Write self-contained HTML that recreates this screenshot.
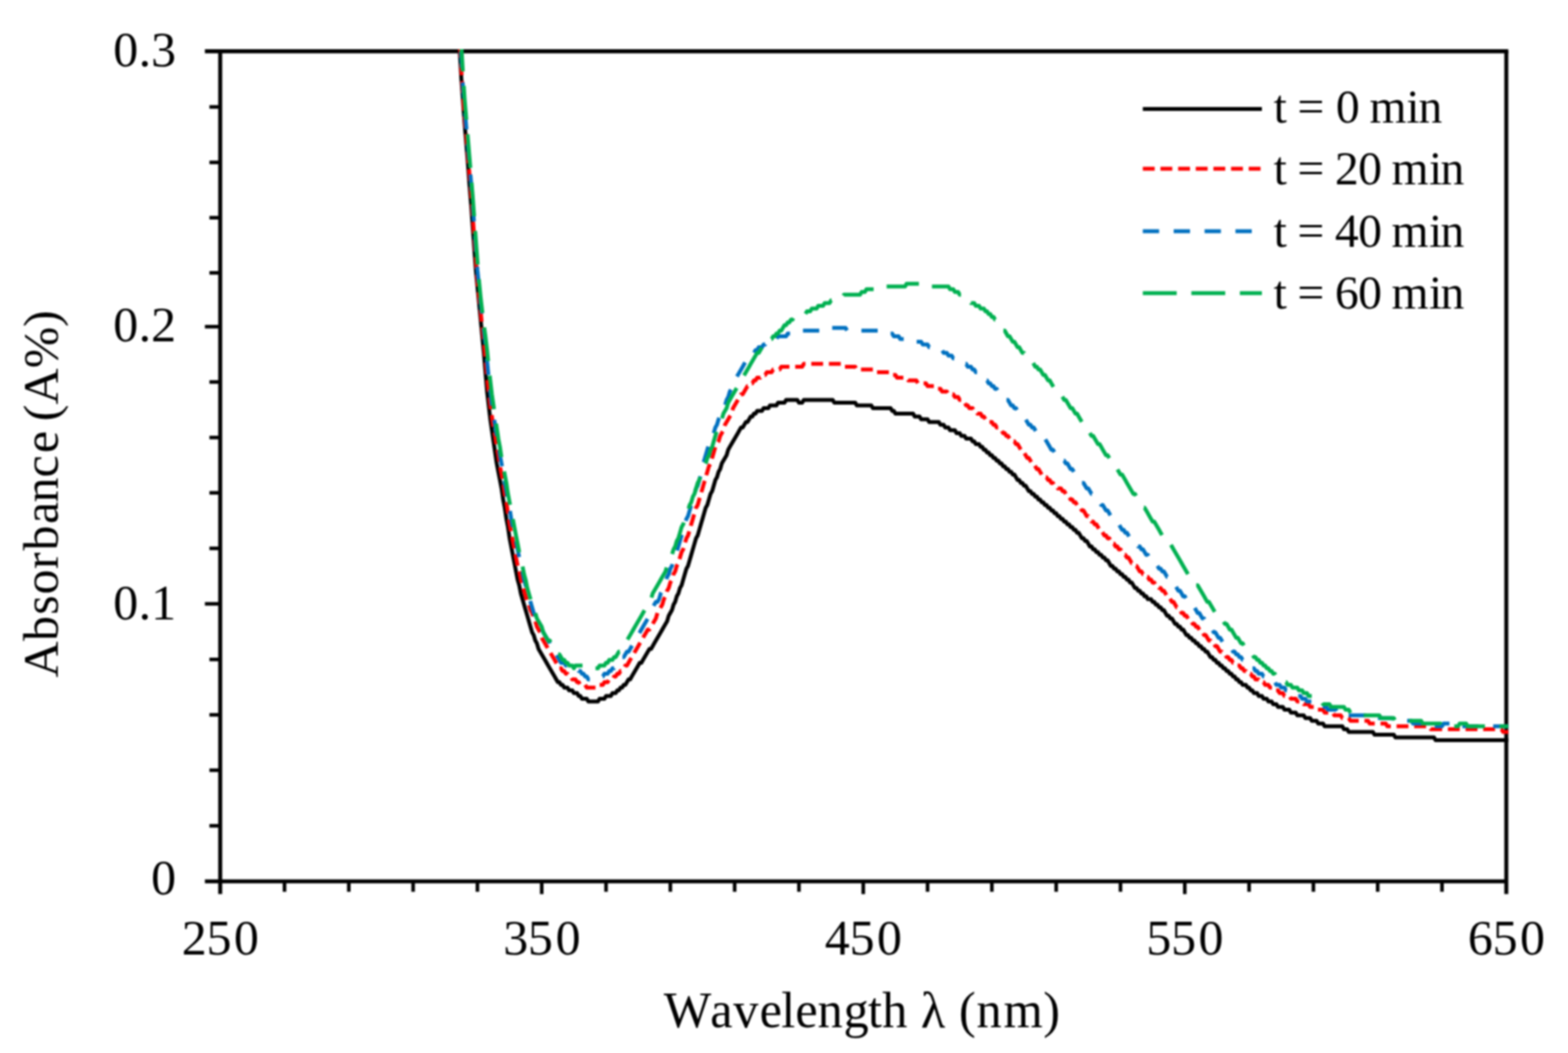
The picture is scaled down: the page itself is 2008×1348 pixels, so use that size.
<!DOCTYPE html>
<html lang="en">
<head>
<meta charset="utf-8">
<title>Absorbance vs Wavelength</title>
<style>
html,body{margin:0;padding:0;background:#fff;}
body{width:2008px;height:1348px;overflow:hidden;}
svg{display:block;filter:blur(0.9px);}
text{font-family:"Liberation Serif","DejaVu Serif",serif;fill:#000;font-kerning:none;}
.ax{font-size:64.5px;}
.lg{font-size:61.0px;}
.tl{font-size:64px;}
.yt{font-size:64px;}
.c{fill:none;stroke-width:5.0;stroke-linejoin:round;stroke-linecap:butt;}
.a{fill:none;stroke:#000;stroke-width:5.1;stroke-linecap:butt;}
.t{fill:none;stroke:#000;stroke-width:4.6;stroke-linecap:butt;}
</style>
</head>
<body>
<svg width="2008" height="1348" viewBox="0 0 2008 1348">
<rect x="0" y="0" width="2008" height="1348" fill="#fff"/>
<defs><clipPath id="plot"><rect x="282.0" y="63.05" width="1649.55" height="1065.15"/></clipPath></defs>

<g class="a">
<path d="M262.4 65.6 H1931.55"/>
<path d="M1929.0 65.6 V1144.6"/>
<path d="M282.0 65.6 V1144.6"/>
<path d="M262.4 1128.2 H1929.0"/>
</g>
<g class="t">
<path d="M268.2 1057.15 H282.0"/>
<path d="M268.2 986.00 H282.0"/>
<path d="M268.2 915.10 H282.0"/>
<path d="M268.2 844.20 H282.0"/>
<path d="M262.4 773.00 H282.0"/>
<path d="M268.2 702.00 H282.0"/>
<path d="M268.2 630.90 H282.0"/>
<path d="M268.2 560.10 H282.0"/>
<path d="M268.2 489.00 H282.0"/>
<path d="M262.4 418.20 H282.0"/>
<path d="M268.2 349.30 H282.0"/>
<path d="M268.2 278.70 H282.0"/>
<path d="M268.2 207.90 H282.0"/>
<path d="M268.2 136.90 H282.0"/>
<path d="M364.35 1128.2 V1141.6"/>
<path d="M446.70 1128.2 V1141.6"/>
<path d="M529.05 1128.2 V1141.6"/>
<path d="M611.40 1128.2 V1141.6"/>
<path d="M693.75 1128.2 V1144.6"/>
<path d="M776.10 1128.2 V1141.6"/>
<path d="M858.45 1128.2 V1141.6"/>
<path d="M940.80 1128.2 V1141.6"/>
<path d="M1023.15 1128.2 V1141.6"/>
<path d="M1105.50 1128.2 V1144.6"/>
<path d="M1187.85 1128.2 V1141.6"/>
<path d="M1270.20 1128.2 V1141.6"/>
<path d="M1352.55 1128.2 V1141.6"/>
<path d="M1434.90 1128.2 V1141.6"/>
<path d="M1517.25 1128.2 V1144.6"/>
<path d="M1599.60 1128.2 V1141.6"/>
<path d="M1681.95 1128.2 V1141.6"/>
<path d="M1764.30 1128.2 V1141.6"/>
<path d="M1846.65 1128.2 V1141.6"/>
</g>
<g clip-path="url(#plot)">
<polyline class="c" stroke="#000" points="586.69,33.72 588.75,65.60 590.81,101.02 592.87,129.36 594.93,157.69 596.99,182.49 599.05,207.28 601.11,235.62 603.16,260.41 605.22,288.75 607.28,317.08 609.34,345.42 611.40,366.67 613.46,387.92 615.52,409.17 617.58,430.43 619.63,451.68 621.69,476.47 623.75,501.27 625.81,518.98 627.87,536.69 629.93,550.85 631.99,565.02 634.05,579.19 636.11,593.36 638.16,603.98 640.22,614.61 642.28,625.24 644.34,639.40 646.40,650.03 648.46,664.20 650.52,674.82 652.58,688.99 654.63,699.62 656.69,710.24 658.75,720.87 660.81,731.50 662.87,742.12 664.93,749.21 666.99,759.83 669.04,766.92 671.10,774.00 673.16,781.08 675.22,788.17 677.28,795.25 679.34,802.34 681.40,809.42 683.46,812.96 685.51,820.05 687.57,823.59 689.63,830.67 691.69,834.21 693.75,837.76 695.81,841.30 697.87,844.84 699.93,848.38 701.98,851.92 704.04,855.47 706.10,859.01 708.16,862.55 710.22,866.09 712.28,869.63 714.34,873.18 716.40,873.18 718.45,876.72 720.51,876.72 722.57,880.26 724.63,880.26 726.69,880.26 728.75,883.80 730.81,883.80 732.87,883.80 734.92,887.34 736.98,887.34 739.04,887.34 741.10,890.89 743.16,890.89 745.22,894.43 747.28,894.43 749.34,894.43 751.39,894.43 753.45,897.97 755.51,897.97 757.57,897.97 759.63,897.97 761.69,897.97 763.75,897.97 765.81,897.97 767.87,894.43 769.92,894.43 771.98,894.43 774.04,894.43 776.10,890.89 778.16,890.89 780.22,890.89 782.28,890.89 784.34,887.34 786.39,887.34 788.45,887.34 790.51,883.80 792.57,883.80 794.63,880.26 796.69,880.26 798.75,876.72 800.80,876.72 802.86,873.18 804.92,869.63 806.98,869.63 809.04,866.09 811.10,862.55 813.16,859.01 815.22,855.47 817.27,851.92 819.33,848.38 821.39,848.38 823.45,844.84 825.51,841.30 827.57,837.76 829.63,834.21 831.69,830.67 833.75,830.67 835.80,827.13 837.86,823.59 839.92,820.05 841.98,816.50 844.04,812.96 846.10,809.42 848.16,805.88 850.21,802.34 852.27,798.79 854.33,795.25 856.39,788.17 858.45,784.63 860.51,781.08 862.57,774.00 864.63,770.46 866.68,763.37 868.74,759.83 870.80,752.75 872.86,749.21 874.92,742.12 876.98,735.04 879.04,727.95 881.10,724.41 883.15,717.33 885.21,710.24 887.27,703.16 889.33,696.08 891.39,688.99 893.45,685.45 895.51,678.37 897.57,671.28 899.62,664.20 901.68,657.11 903.74,650.03 905.80,646.49 907.86,639.40 909.92,632.32 911.98,628.78 914.04,621.69 916.09,614.61 918.15,611.07 920.21,603.98 922.27,600.44 924.33,593.36 926.39,589.82 928.45,586.27 930.51,582.73 932.56,575.65 934.62,572.11 936.68,568.56 938.74,565.02 940.80,561.48 942.86,557.94 944.92,554.40 946.98,550.85 949.03,547.31 951.09,547.31 953.15,543.77 955.21,540.23 957.27,540.23 959.33,536.69 961.39,533.14 963.45,533.14 965.50,529.60 967.56,529.60 969.62,526.06 971.68,526.06 973.74,526.06 975.80,526.06 977.86,522.52 979.92,522.52 981.97,522.52 984.03,522.52 986.09,518.98 988.15,518.98 990.21,518.98 992.27,518.98 994.33,518.98 996.39,515.43 998.44,515.43 1000.50,515.43 1002.56,515.43 1004.62,515.43 1006.68,511.89 1008.74,511.89 1010.80,511.89 1012.86,511.89 1014.91,511.89 1016.97,511.89 1019.03,511.89 1021.09,511.89 1023.15,515.43 1025.21,515.43 1027.27,515.43 1029.33,511.89 1031.38,511.89 1033.44,511.89 1035.50,511.89 1037.56,511.89 1039.62,511.89 1041.68,511.89 1043.74,511.89 1045.80,511.89 1047.86,511.89 1049.91,511.89 1051.97,511.89 1054.03,511.89 1056.09,511.89 1058.15,511.89 1060.21,511.89 1062.27,511.89 1064.32,511.89 1066.38,511.89 1068.44,515.43 1070.50,515.43 1072.56,515.43 1074.62,515.43 1076.68,515.43 1078.74,515.43 1080.80,515.43 1082.85,515.43 1084.91,515.43 1086.97,515.43 1089.03,515.43 1091.09,515.43 1093.15,515.43 1095.21,515.43 1097.26,518.98 1099.32,518.98 1101.38,518.98 1103.44,518.98 1105.50,518.98 1107.56,518.98 1109.62,518.98 1111.68,518.98 1113.73,518.98 1115.79,518.98 1117.85,522.52 1119.91,522.52 1121.97,522.52 1124.03,522.52 1126.09,522.52 1128.15,522.52 1130.20,522.52 1132.26,522.52 1134.32,522.52 1136.38,522.52 1138.44,522.52 1140.50,522.52 1142.56,526.06 1144.62,526.06 1146.67,529.60 1148.73,529.60 1150.79,529.60 1152.85,529.60 1154.91,529.60 1156.97,529.60 1159.03,529.60 1161.09,529.60 1163.14,529.60 1165.20,529.60 1167.26,529.60 1169.32,529.60 1171.38,533.14 1173.44,533.14 1175.50,533.14 1177.56,533.14 1179.61,536.69 1181.67,536.69 1183.73,536.69 1185.79,536.69 1187.85,536.69 1189.91,540.23 1191.97,540.23 1194.03,540.23 1196.09,540.23 1198.14,540.23 1200.20,540.23 1202.26,540.23 1204.32,543.77 1206.38,543.77 1208.44,543.77 1210.50,547.31 1212.55,547.31 1214.61,547.31 1216.67,550.85 1218.73,550.85 1220.79,550.85 1222.85,550.85 1224.91,554.40 1226.97,554.40 1229.03,554.40 1231.08,557.94 1233.14,557.94 1235.20,557.94 1237.26,561.48 1239.32,561.48 1241.38,561.48 1243.44,561.48 1245.49,565.02 1247.55,565.02 1249.61,568.56 1251.67,568.56 1253.73,568.56 1255.79,572.11 1257.85,572.11 1259.91,575.65 1261.96,575.65 1264.02,579.19 1266.08,579.19 1268.14,582.73 1270.20,582.73 1272.26,586.27 1274.32,586.27 1276.38,589.82 1278.43,589.82 1280.49,593.36 1282.55,593.36 1284.61,596.90 1286.67,596.90 1288.73,600.44 1290.79,600.44 1292.85,603.98 1294.90,603.98 1296.96,607.53 1299.02,607.53 1301.08,611.07 1303.14,614.61 1305.20,614.61 1307.26,618.15 1309.32,618.15 1311.38,621.69 1313.43,621.69 1315.49,625.24 1317.55,628.78 1319.61,628.78 1321.67,632.32 1323.73,632.32 1325.79,635.86 1327.85,635.86 1329.90,639.40 1331.96,639.40 1334.02,642.95 1336.08,642.95 1338.14,646.49 1340.20,646.49 1342.26,650.03 1344.31,650.03 1346.37,653.57 1348.43,653.57 1350.49,657.11 1352.55,657.11 1354.61,660.66 1356.67,660.66 1358.73,664.20 1360.78,664.20 1362.84,667.74 1364.90,667.74 1366.96,671.28 1369.02,671.28 1371.08,674.82 1373.14,674.82 1375.20,678.37 1377.25,678.37 1379.31,681.91 1381.37,681.91 1383.43,685.45 1385.49,688.99 1387.55,688.99 1389.61,692.53 1391.67,692.53 1393.72,696.08 1395.78,699.62 1397.84,699.62 1399.90,703.16 1401.96,703.16 1404.02,706.70 1406.08,706.70 1408.14,710.24 1410.19,710.24 1412.25,713.79 1414.31,713.79 1416.37,717.33 1418.43,717.33 1420.49,720.87 1422.55,724.41 1424.61,724.41 1426.66,727.95 1428.72,727.95 1430.78,731.50 1432.84,731.50 1434.90,735.04 1436.96,735.04 1439.02,738.58 1441.08,738.58 1443.13,742.12 1445.19,742.12 1447.25,745.66 1449.31,745.66 1451.37,749.21 1453.43,752.75 1455.49,752.75 1457.55,756.29 1459.61,756.29 1461.66,759.83 1463.72,759.83 1465.78,763.37 1467.84,763.37 1469.90,766.92 1471.96,766.92 1474.02,766.92 1476.07,770.46 1478.13,770.46 1480.19,774.00 1482.25,774.00 1484.31,777.54 1486.37,777.54 1488.43,781.08 1490.49,781.08 1492.54,784.63 1494.60,788.17 1496.66,788.17 1498.72,791.71 1500.78,791.71 1502.84,795.25 1504.90,798.79 1506.96,798.79 1509.01,802.34 1511.07,802.34 1513.13,805.88 1515.19,805.88 1517.25,809.42 1519.31,812.96 1521.37,812.96 1523.43,816.50 1525.48,816.50 1527.54,820.05 1529.60,820.05 1531.66,823.59 1533.72,823.59 1535.78,827.13 1537.84,827.13 1539.90,830.67 1541.95,830.67 1544.01,834.21 1546.07,834.21 1548.13,837.76 1550.19,841.30 1552.25,841.30 1554.31,844.84 1556.37,844.84 1558.42,848.38 1560.48,848.38 1562.54,851.92 1564.60,851.92 1566.66,855.47 1568.72,855.47 1570.78,859.01 1572.84,859.01 1574.89,862.55 1576.95,862.55 1579.01,866.09 1581.07,866.09 1583.13,869.63 1585.19,869.63 1587.25,873.18 1589.31,873.18 1591.37,876.72 1593.42,876.72 1595.48,876.72 1597.54,880.26 1599.60,880.26 1601.66,883.80 1603.72,883.80 1605.78,887.34 1607.83,887.34 1609.89,887.34 1611.95,890.89 1614.01,890.89 1616.07,890.89 1618.13,894.43 1620.19,894.43 1622.25,894.43 1624.30,897.97 1626.36,897.97 1628.42,897.97 1630.48,901.51 1632.54,901.51 1634.60,901.51 1636.66,905.05 1638.72,905.05 1640.77,905.05 1642.83,905.05 1644.89,908.60 1646.95,908.60 1649.01,908.60 1651.07,908.60 1653.13,912.14 1655.19,912.14 1657.24,912.14 1659.30,912.14 1661.36,915.68 1663.42,915.68 1665.48,915.68 1667.54,915.68 1669.60,915.68 1671.66,919.22 1673.71,919.22 1675.77,919.22 1677.83,919.22 1679.89,922.76 1681.95,922.76 1684.01,922.76 1686.07,922.76 1688.13,926.31 1690.18,926.31 1692.24,926.31 1694.30,926.31 1696.36,929.85 1698.42,929.85 1700.48,929.85 1702.54,929.85 1704.60,929.85 1706.65,929.85 1708.71,929.85 1710.77,929.85 1712.83,929.85 1714.89,929.85 1716.95,929.85 1719.01,929.85 1721.07,933.39 1723.12,933.39 1725.18,933.39 1727.24,936.93 1729.30,936.93 1731.36,936.93 1733.42,936.93 1735.48,936.93 1737.54,936.93 1739.59,936.93 1741.65,936.93 1743.71,936.93 1745.77,936.93 1747.83,936.93 1749.89,936.93 1751.95,936.93 1754.01,936.93 1756.06,936.93 1758.12,936.93 1760.18,940.47 1762.24,940.47 1764.30,940.47 1766.36,940.47 1768.42,940.47 1770.48,940.47 1772.53,940.47 1774.59,940.47 1776.65,940.47 1778.71,940.47 1780.77,940.47 1782.83,940.47 1784.89,940.47 1786.95,944.02 1789.00,944.02 1791.06,944.02 1793.12,944.02 1795.18,944.02 1797.24,944.02 1799.30,944.02 1801.36,944.02 1803.42,944.02 1805.47,944.02 1807.53,944.02 1809.59,944.02 1811.65,944.02 1813.71,944.02 1815.77,944.02 1817.83,944.02 1819.89,944.02 1821.94,944.02 1824.00,944.02 1826.06,944.02 1828.12,944.02 1830.18,944.02 1832.24,944.02 1834.30,944.02 1836.36,944.02 1838.41,947.56 1840.47,947.56 1842.53,947.56 1844.59,947.56 1846.65,947.56 1848.71,947.56 1850.77,947.56 1852.83,947.56 1854.88,947.56 1856.94,947.56 1859.00,947.56 1861.06,947.56 1863.12,947.56 1865.18,947.56 1867.24,947.56 1869.30,947.56 1871.35,947.56 1873.41,947.56 1875.47,947.56 1877.53,947.56 1879.59,947.56 1881.65,947.56 1883.71,947.56 1885.77,947.56 1887.82,947.56 1889.88,947.56 1891.94,947.56 1894.00,947.56 1896.06,947.56 1898.12,947.56 1900.18,947.56 1902.24,947.56 1904.29,947.56 1906.35,947.56 1908.41,947.56 1910.47,947.56 1912.53,947.56 1914.59,947.56 1916.65,947.56 1918.71,947.56 1920.76,947.56 1922.82,947.56 1924.88,947.56 1926.94,947.56 1929.00,947.56 1931.06,947.56 1933.12,947.56"/>
<polyline class="c" stroke="#ff0000" stroke-dasharray="15.19 7.4" stroke-dashoffset="12.99" points="586.69,26.64 588.75,54.97 590.81,90.39 592.87,122.27 594.93,150.61 596.99,171.86 599.05,196.65 601.11,221.45 603.16,246.24 605.22,274.58 607.28,302.91 609.34,331.25 611.40,359.59 613.46,380.84 615.52,398.55 617.58,419.80 619.63,437.51 621.69,458.76 623.75,483.56 625.81,501.27 627.87,518.98 629.93,533.14 631.99,547.31 634.05,557.94 636.11,572.11 638.16,582.73 640.22,596.90 642.28,607.53 644.34,618.15 646.40,632.32 648.46,642.95 650.52,657.11 652.58,671.28 654.63,681.91 656.69,692.53 658.75,703.16 660.81,713.79 662.87,724.41 664.93,731.50 666.99,742.12 669.04,749.21 671.10,756.29 673.16,763.37 675.22,770.46 677.28,774.00 679.34,781.08 681.40,784.63 683.46,791.71 685.51,795.25 687.57,802.34 689.63,805.88 691.69,809.42 693.75,816.50 695.81,820.05 697.87,823.59 699.93,827.13 701.98,830.67 704.04,834.21 706.10,837.76 708.16,841.30 710.22,844.84 712.28,848.38 714.34,851.92 716.40,855.47 718.45,855.47 720.51,859.01 722.57,859.01 724.63,862.55 726.69,862.55 728.75,866.09 730.81,866.09 732.87,869.63 734.92,869.63 736.98,869.63 739.04,873.18 741.10,873.18 743.16,876.72 745.22,876.72 747.28,876.72 749.34,876.72 751.39,880.26 753.45,880.26 755.51,880.26 757.57,880.26 759.63,880.26 761.69,880.26 763.75,880.26 765.81,876.72 767.87,876.72 769.92,876.72 771.98,876.72 774.04,873.18 776.10,873.18 778.16,873.18 780.22,869.63 782.28,869.63 784.34,869.63 786.39,866.09 788.45,866.09 790.51,862.55 792.57,862.55 794.63,859.01 796.69,859.01 798.75,855.47 800.80,851.92 802.86,851.92 804.92,848.38 806.98,844.84 809.04,841.30 811.10,837.76 813.16,834.21 815.22,830.67 817.27,827.13 819.33,823.59 821.39,820.05 823.45,816.50 825.51,812.96 827.57,809.42 829.63,805.88 831.69,805.88 833.75,802.34 835.80,798.79 837.86,795.25 839.92,791.71 841.98,784.63 844.04,781.08 846.10,777.54 848.16,774.00 850.21,766.92 852.27,763.37 854.33,756.29 856.39,752.75 858.45,745.66 860.51,742.12 862.57,735.04 864.63,731.50 866.68,724.41 868.74,720.87 870.80,713.79 872.86,706.70 874.92,703.16 876.98,696.08 879.04,688.99 881.10,685.45 883.15,678.37 885.21,671.28 887.27,664.20 889.33,657.11 891.39,650.03 893.45,646.49 895.51,639.40 897.57,632.32 899.62,625.24 901.68,618.15 903.74,611.07 905.80,603.98 907.86,596.90 909.92,593.36 911.98,586.27 914.04,579.19 916.09,572.11 918.15,568.56 920.21,565.02 922.27,557.94 924.33,554.40 926.39,550.85 928.45,543.77 930.51,540.23 932.56,536.69 934.62,533.14 936.68,529.60 938.74,522.52 940.80,518.98 942.86,515.43 944.92,511.89 946.98,508.35 949.03,504.81 951.09,504.81 953.15,501.27 955.21,497.72 957.27,494.18 959.33,494.18 961.39,490.64 963.45,490.64 965.50,487.10 967.56,487.10 969.62,483.56 971.68,483.56 973.74,483.56 975.80,480.01 977.86,480.01 979.92,480.01 981.97,476.47 984.03,476.47 986.09,476.47 988.15,476.47 990.21,472.93 992.27,472.93 994.33,472.93 996.39,472.93 998.44,472.93 1000.50,469.39 1002.56,469.39 1004.62,469.39 1006.68,469.39 1008.74,469.39 1010.80,469.39 1012.86,469.39 1014.91,469.39 1016.97,469.39 1019.03,469.39 1021.09,469.39 1023.15,469.39 1025.21,469.39 1027.27,469.39 1029.33,465.85 1031.38,465.85 1033.44,465.85 1035.50,465.85 1037.56,465.85 1039.62,465.85 1041.68,465.85 1043.74,465.85 1045.80,465.85 1047.86,465.85 1049.91,465.85 1051.97,465.85 1054.03,465.85 1056.09,465.85 1058.15,465.85 1060.21,465.85 1062.27,465.85 1064.32,465.85 1066.38,465.85 1068.44,465.85 1070.50,465.85 1072.56,465.85 1074.62,465.85 1076.68,465.85 1078.74,465.85 1080.80,469.39 1082.85,469.39 1084.91,469.39 1086.97,469.39 1089.03,469.39 1091.09,469.39 1093.15,469.39 1095.21,469.39 1097.26,472.93 1099.32,472.93 1101.38,472.93 1103.44,472.93 1105.50,472.93 1107.56,472.93 1109.62,472.93 1111.68,472.93 1113.73,472.93 1115.79,472.93 1117.85,472.93 1119.91,476.47 1121.97,476.47 1124.03,476.47 1126.09,476.47 1128.15,476.47 1130.20,476.47 1132.26,476.47 1134.32,476.47 1136.38,476.47 1138.44,476.47 1140.50,480.01 1142.56,480.01 1144.62,480.01 1146.67,480.01 1148.73,483.56 1150.79,483.56 1152.85,483.56 1154.91,483.56 1156.97,483.56 1159.03,483.56 1161.09,483.56 1163.14,487.10 1165.20,487.10 1167.26,487.10 1169.32,487.10 1171.38,487.10 1173.44,487.10 1175.50,490.64 1177.56,490.64 1179.61,490.64 1181.67,490.64 1183.73,490.64 1185.79,490.64 1187.85,494.18 1189.91,494.18 1191.97,494.18 1194.03,494.18 1196.09,494.18 1198.14,497.72 1200.20,497.72 1202.26,497.72 1204.32,497.72 1206.38,501.27 1208.44,501.27 1210.50,501.27 1212.55,501.27 1214.61,504.81 1216.67,504.81 1218.73,504.81 1220.79,504.81 1222.85,508.35 1224.91,508.35 1226.97,508.35 1229.03,511.89 1231.08,511.89 1233.14,515.43 1235.20,515.43 1237.26,518.98 1239.32,518.98 1241.38,522.52 1243.44,522.52 1245.49,522.52 1247.55,526.06 1249.61,526.06 1251.67,529.60 1253.73,529.60 1255.79,529.60 1257.85,533.14 1259.91,533.14 1261.96,536.69 1264.02,536.69 1266.08,540.23 1268.14,540.23 1270.20,540.23 1272.26,543.77 1274.32,543.77 1276.38,547.31 1278.43,547.31 1280.49,550.85 1282.55,550.85 1284.61,554.40 1286.67,554.40 1288.73,557.94 1290.79,557.94 1292.85,561.48 1294.90,561.48 1296.96,565.02 1299.02,565.02 1301.08,568.56 1303.14,568.56 1305.20,572.11 1307.26,575.65 1309.32,575.65 1311.38,579.19 1313.43,582.73 1315.49,586.27 1317.55,586.27 1319.61,589.82 1321.67,593.36 1323.73,593.36 1325.79,596.90 1327.85,600.44 1329.90,600.44 1331.96,603.98 1334.02,607.53 1336.08,607.53 1338.14,611.07 1340.20,611.07 1342.26,614.61 1344.31,614.61 1346.37,618.15 1348.43,618.15 1350.49,621.69 1352.55,621.69 1354.61,625.24 1356.67,625.24 1358.73,625.24 1360.78,628.78 1362.84,628.78 1364.90,632.32 1366.96,635.86 1369.02,635.86 1371.08,639.40 1373.14,639.40 1375.20,642.95 1377.25,642.95 1379.31,646.49 1381.37,650.03 1383.43,650.03 1385.49,653.57 1387.55,653.57 1389.61,657.11 1391.67,660.66 1393.72,660.66 1395.78,664.20 1397.84,667.74 1399.90,667.74 1401.96,671.28 1404.02,671.28 1406.08,674.82 1408.14,678.37 1410.19,678.37 1412.25,681.91 1414.31,685.45 1416.37,685.45 1418.43,688.99 1420.49,688.99 1422.55,692.53 1424.61,696.08 1426.66,696.08 1428.72,699.62 1430.78,699.62 1432.84,703.16 1434.90,703.16 1436.96,706.70 1439.02,710.24 1441.08,710.24 1443.13,713.79 1445.19,713.79 1447.25,717.33 1449.31,720.87 1451.37,720.87 1453.43,724.41 1455.49,724.41 1457.55,727.95 1459.61,731.50 1461.66,731.50 1463.72,735.04 1465.78,735.04 1467.84,738.58 1469.90,738.58 1471.96,742.12 1474.02,742.12 1476.07,745.66 1478.13,745.66 1480.19,749.21 1482.25,749.21 1484.31,752.75 1486.37,752.75 1488.43,756.29 1490.49,756.29 1492.54,759.83 1494.60,763.37 1496.66,763.37 1498.72,766.92 1500.78,770.46 1502.84,770.46 1504.90,774.00 1506.96,777.54 1509.01,777.54 1511.07,781.08 1513.13,784.63 1515.19,784.63 1517.25,788.17 1519.31,788.17 1521.37,791.71 1523.43,795.25 1525.48,795.25 1527.54,798.79 1529.60,798.79 1531.66,802.34 1533.72,802.34 1535.78,805.88 1537.84,809.42 1539.90,809.42 1541.95,812.96 1544.01,812.96 1546.07,816.50 1548.13,820.05 1550.19,820.05 1552.25,823.59 1554.31,823.59 1556.37,827.13 1558.42,827.13 1560.48,830.67 1562.54,834.21 1564.60,834.21 1566.66,837.76 1568.72,837.76 1570.78,841.30 1572.84,841.30 1574.89,844.84 1576.95,844.84 1579.01,848.38 1581.07,848.38 1583.13,851.92 1585.19,851.92 1587.25,851.92 1589.31,855.47 1591.37,855.47 1593.42,859.01 1595.48,859.01 1597.54,862.55 1599.60,862.55 1601.66,862.55 1603.72,866.09 1605.78,866.09 1607.83,869.63 1609.89,869.63 1611.95,869.63 1614.01,873.18 1616.07,873.18 1618.13,873.18 1620.19,876.72 1622.25,876.72 1624.30,876.72 1626.36,880.26 1628.42,880.26 1630.48,880.26 1632.54,883.80 1634.60,883.80 1636.66,883.80 1638.72,887.34 1640.77,887.34 1642.83,887.34 1644.89,890.89 1646.95,890.89 1649.01,890.89 1651.07,890.89 1653.13,894.43 1655.19,894.43 1657.24,894.43 1659.30,894.43 1661.36,897.97 1663.42,897.97 1665.48,897.97 1667.54,897.97 1669.60,901.51 1671.66,901.51 1673.71,901.51 1675.77,901.51 1677.83,905.05 1679.89,905.05 1681.95,905.05 1684.01,905.05 1686.07,908.60 1688.13,908.60 1690.18,908.60 1692.24,908.60 1694.30,908.60 1696.36,912.14 1698.42,912.14 1700.48,912.14 1702.54,912.14 1704.60,912.14 1706.65,912.14 1708.71,915.68 1710.77,915.68 1712.83,915.68 1714.89,915.68 1716.95,915.68 1719.01,919.22 1721.07,919.22 1723.12,919.22 1725.18,919.22 1727.24,919.22 1729.30,922.76 1731.36,922.76 1733.42,922.76 1735.48,922.76 1737.54,922.76 1739.59,922.76 1741.65,922.76 1743.71,922.76 1745.77,922.76 1747.83,922.76 1749.89,922.76 1751.95,922.76 1754.01,926.31 1756.06,926.31 1758.12,926.31 1760.18,926.31 1762.24,926.31 1764.30,926.31 1766.36,926.31 1768.42,926.31 1770.48,926.31 1772.53,926.31 1774.59,926.31 1776.65,929.85 1778.71,929.85 1780.77,929.85 1782.83,929.85 1784.89,929.85 1786.95,929.85 1789.00,929.85 1791.06,929.85 1793.12,929.85 1795.18,929.85 1797.24,929.85 1799.30,929.85 1801.36,929.85 1803.42,929.85 1805.47,929.85 1807.53,929.85 1809.59,929.85 1811.65,929.85 1813.71,929.85 1815.77,929.85 1817.83,929.85 1819.89,929.85 1821.94,929.85 1824.00,929.85 1826.06,929.85 1828.12,929.85 1830.18,929.85 1832.24,933.39 1834.30,933.39 1836.36,933.39 1838.41,933.39 1840.47,933.39 1842.53,933.39 1844.59,933.39 1846.65,933.39 1848.71,933.39 1850.77,933.39 1852.83,933.39 1854.88,933.39 1856.94,933.39 1859.00,933.39 1861.06,933.39 1863.12,933.39 1865.18,933.39 1867.24,933.39 1869.30,933.39 1871.35,933.39 1873.41,933.39 1875.47,933.39 1877.53,933.39 1879.59,933.39 1881.65,933.39 1883.71,933.39 1885.77,933.39 1887.82,933.39 1889.88,933.39 1891.94,933.39 1894.00,933.39 1896.06,933.39 1898.12,933.39 1900.18,933.39 1902.24,933.39 1904.29,933.39 1906.35,933.39 1908.41,933.39 1910.47,933.39 1912.53,933.39 1914.59,933.39 1916.65,933.39 1918.71,933.39 1920.76,933.39 1922.82,933.39 1924.88,936.93 1926.94,936.93 1929.00,936.93 1931.06,936.93 1933.12,936.93"/>
<polyline class="c" stroke="#0070c0" stroke-dasharray="20.85 18.6" stroke-dashoffset="17.65" points="588.75,44.35 590.81,76.23 592.87,111.65 594.93,136.44 596.99,161.23 599.05,186.03 601.11,207.28 603.16,232.07 605.22,260.41 607.28,288.75 609.34,317.08 611.40,345.42 613.46,366.67 615.52,387.92 617.58,405.63 619.63,423.34 621.69,441.05 623.75,462.30 625.81,483.56 627.87,501.27 629.93,518.98 631.99,533.14 634.05,543.77 636.11,557.94 638.16,568.56 640.22,582.73 642.28,593.36 644.34,603.98 646.40,618.15 648.46,628.78 650.52,639.40 652.58,650.03 654.63,664.20 656.69,674.82 658.75,685.45 660.81,692.53 662.87,703.16 664.93,713.79 666.99,724.41 669.04,731.50 671.10,742.12 673.16,749.21 675.22,756.29 677.28,763.37 679.34,770.46 681.40,777.54 683.46,784.63 685.51,788.17 687.57,795.25 689.63,798.79 691.69,802.34 693.75,805.88 695.81,809.42 697.87,812.96 699.93,816.50 701.98,820.05 704.04,823.59 706.10,830.67 708.16,834.21 710.22,837.76 712.28,837.76 714.34,841.30 716.40,844.84 718.45,848.38 720.51,848.38 722.57,848.38 724.63,851.92 726.69,851.92 728.75,851.92 730.81,851.92 732.87,855.47 734.92,855.47 736.98,855.47 739.04,855.47 741.10,859.01 743.16,859.01 745.22,862.55 747.28,862.55 749.34,866.09 751.39,866.09 753.45,869.63 755.51,869.63 757.57,869.63 759.63,869.63 761.69,869.63 763.75,869.63 765.81,869.63 767.87,866.09 769.92,866.09 771.98,866.09 774.04,862.55 776.10,862.55 778.16,862.55 780.22,859.01 782.28,859.01 784.34,855.47 786.39,855.47 788.45,851.92 790.51,848.38 792.57,848.38 794.63,844.84 796.69,841.30 798.75,841.30 800.80,837.76 802.86,834.21 804.92,834.21 806.98,830.67 809.04,827.13 811.10,823.59 813.16,820.05 815.22,816.50 817.27,812.96 819.33,809.42 821.39,805.88 823.45,802.34 825.51,798.79 827.57,795.25 829.63,791.71 831.69,788.17 833.75,784.63 835.80,777.54 837.86,774.00 839.92,770.46 841.98,770.46 844.04,766.92 846.10,759.83 848.16,756.29 850.21,752.75 852.27,745.66 854.33,738.58 856.39,735.04 858.45,727.95 860.51,724.41 862.57,717.33 864.63,710.24 866.68,706.70 868.74,699.62 870.80,692.53 872.86,685.45 874.92,678.37 876.98,671.28 879.04,664.20 881.10,660.66 883.15,653.57 885.21,646.49 887.27,639.40 889.33,632.32 891.39,625.24 893.45,621.69 895.51,614.61 897.57,607.53 899.62,596.90 901.68,589.82 903.74,582.73 905.80,575.65 907.86,568.56 909.92,565.02 911.98,557.94 914.04,554.40 916.09,547.31 918.15,543.77 920.21,536.69 922.27,533.14 924.33,526.06 926.39,522.52 928.45,518.98 930.51,511.89 932.56,508.35 934.62,501.27 936.68,497.72 938.74,494.18 940.80,487.10 942.86,483.56 944.92,480.01 946.98,476.47 949.03,472.93 951.09,469.39 953.15,465.85 955.21,462.30 957.27,462.30 959.33,458.76 961.39,455.22 963.45,455.22 965.50,451.68 967.56,448.14 969.62,448.14 971.68,444.59 973.74,444.59 975.80,444.59 977.86,441.05 979.92,441.05 981.97,437.51 984.03,437.51 986.09,437.51 988.15,433.97 990.21,433.97 992.27,433.97 994.33,433.97 996.39,430.43 998.44,430.43 1000.50,430.43 1002.56,430.43 1004.62,430.43 1006.68,430.43 1008.74,426.88 1010.80,426.88 1012.86,426.88 1014.91,426.88 1016.97,426.88 1019.03,426.88 1021.09,426.88 1023.15,426.88 1025.21,423.34 1027.27,423.34 1029.33,423.34 1031.38,423.34 1033.44,423.34 1035.50,423.34 1037.56,423.34 1039.62,423.34 1041.68,423.34 1043.74,423.34 1045.80,423.34 1047.86,423.34 1049.91,423.34 1051.97,423.34 1054.03,423.34 1056.09,423.34 1058.15,423.34 1060.21,423.34 1062.27,419.80 1064.32,419.80 1066.38,419.80 1068.44,419.80 1070.50,419.80 1072.56,419.80 1074.62,419.80 1076.68,419.80 1078.74,419.80 1080.80,419.80 1082.85,419.80 1084.91,423.34 1086.97,423.34 1089.03,423.34 1091.09,423.34 1093.15,423.34 1095.21,423.34 1097.26,423.34 1099.32,423.34 1101.38,423.34 1103.44,423.34 1105.50,423.34 1107.56,423.34 1109.62,423.34 1111.68,423.34 1113.73,423.34 1115.79,423.34 1117.85,423.34 1119.91,423.34 1121.97,423.34 1124.03,423.34 1126.09,426.88 1128.15,426.88 1130.20,426.88 1132.26,426.88 1134.32,426.88 1136.38,426.88 1138.44,426.88 1140.50,426.88 1142.56,426.88 1144.62,430.43 1146.67,430.43 1148.73,430.43 1150.79,430.43 1152.85,433.97 1154.91,433.97 1156.97,433.97 1159.03,433.97 1161.09,433.97 1163.14,433.97 1165.20,433.97 1167.26,433.97 1169.32,433.97 1171.38,437.51 1173.44,437.51 1175.50,437.51 1177.56,437.51 1179.61,437.51 1181.67,441.05 1183.73,441.05 1185.79,441.05 1187.85,441.05 1189.91,444.59 1191.97,444.59 1194.03,444.59 1196.09,444.59 1198.14,444.59 1200.20,448.14 1202.26,448.14 1204.32,448.14 1206.38,448.14 1208.44,451.68 1210.50,451.68 1212.55,451.68 1214.61,455.22 1216.67,455.22 1218.73,455.22 1220.79,458.76 1222.85,458.76 1224.91,458.76 1226.97,462.30 1229.03,462.30 1231.08,462.30 1233.14,465.85 1235.20,465.85 1237.26,465.85 1239.32,469.39 1241.38,469.39 1243.44,469.39 1245.49,472.93 1247.55,472.93 1249.61,476.47 1251.67,476.47 1253.73,476.47 1255.79,480.01 1257.85,483.56 1259.91,483.56 1261.96,487.10 1264.02,487.10 1266.08,490.64 1268.14,490.64 1270.20,494.18 1272.26,494.18 1274.32,497.72 1276.38,497.72 1278.43,501.27 1280.49,501.27 1282.55,504.81 1284.61,508.35 1286.67,508.35 1288.73,511.89 1290.79,511.89 1292.85,515.43 1294.90,518.98 1296.96,518.98 1299.02,522.52 1301.08,522.52 1303.14,526.06 1305.20,529.60 1307.26,529.60 1309.32,533.14 1311.38,536.69 1313.43,536.69 1315.49,540.23 1317.55,543.77 1319.61,543.77 1321.67,547.31 1323.73,547.31 1325.79,550.85 1327.85,554.40 1329.90,554.40 1331.96,557.94 1334.02,557.94 1336.08,561.48 1338.14,561.48 1340.20,565.02 1342.26,568.56 1344.31,572.11 1346.37,575.65 1348.43,575.65 1350.49,579.19 1352.55,582.73 1354.61,582.73 1356.67,586.27 1358.73,586.27 1360.78,589.82 1362.84,589.82 1364.90,593.36 1366.96,593.36 1369.02,596.90 1371.08,600.44 1373.14,600.44 1375.20,603.98 1377.25,607.53 1379.31,607.53 1381.37,611.07 1383.43,614.61 1385.49,618.15 1387.55,618.15 1389.61,621.69 1391.67,625.24 1393.72,625.24 1395.78,628.78 1397.84,632.32 1399.90,632.32 1401.96,635.86 1404.02,639.40 1406.08,639.40 1408.14,642.95 1410.19,646.49 1412.25,646.49 1414.31,650.03 1416.37,653.57 1418.43,653.57 1420.49,657.11 1422.55,660.66 1424.61,664.20 1426.66,664.20 1428.72,667.74 1430.78,671.28 1432.84,671.28 1434.90,674.82 1436.96,678.37 1439.02,678.37 1441.08,681.91 1443.13,681.91 1445.19,685.45 1447.25,688.99 1449.31,688.99 1451.37,692.53 1453.43,692.53 1455.49,696.08 1457.55,699.62 1459.61,699.62 1461.66,703.16 1463.72,703.16 1465.78,706.70 1467.84,710.24 1469.90,710.24 1471.96,713.79 1474.02,717.33 1476.07,717.33 1478.13,720.87 1480.19,720.87 1482.25,724.41 1484.31,727.95 1486.37,727.95 1488.43,731.50 1490.49,731.50 1492.54,735.04 1494.60,738.58 1496.66,738.58 1498.72,742.12 1500.78,745.66 1502.84,745.66 1504.90,749.21 1506.96,752.75 1509.01,756.29 1511.07,756.29 1513.13,759.83 1515.19,763.37 1517.25,763.37 1519.31,766.92 1521.37,770.46 1523.43,770.46 1525.48,774.00 1527.54,777.54 1529.60,777.54 1531.66,781.08 1533.72,784.63 1535.78,784.63 1537.84,788.17 1539.90,791.71 1541.95,791.71 1544.01,795.25 1546.07,798.79 1548.13,802.34 1550.19,802.34 1552.25,805.88 1554.31,809.42 1556.37,809.42 1558.42,812.96 1560.48,816.50 1562.54,816.50 1564.60,820.05 1566.66,823.59 1568.72,823.59 1570.78,827.13 1572.84,827.13 1574.89,830.67 1576.95,830.67 1579.01,834.21 1581.07,834.21 1583.13,837.76 1585.19,837.76 1587.25,841.30 1589.31,841.30 1591.37,844.84 1593.42,844.84 1595.48,848.38 1597.54,848.38 1599.60,851.92 1601.66,851.92 1603.72,855.47 1605.78,855.47 1607.83,859.01 1609.89,859.01 1611.95,862.55 1614.01,862.55 1616.07,862.55 1618.13,866.09 1620.19,866.09 1622.25,866.09 1624.30,869.63 1626.36,869.63 1628.42,873.18 1630.48,873.18 1632.54,873.18 1634.60,876.72 1636.66,876.72 1638.72,876.72 1640.77,880.26 1642.83,880.26 1644.89,880.26 1646.95,883.80 1649.01,883.80 1651.07,883.80 1653.13,887.34 1655.19,887.34 1657.24,887.34 1659.30,890.89 1661.36,890.89 1663.42,890.89 1665.48,890.89 1667.54,894.43 1669.60,894.43 1671.66,894.43 1673.71,897.97 1675.77,897.97 1677.83,897.97 1679.89,897.97 1681.95,901.51 1684.01,901.51 1686.07,901.51 1688.13,901.51 1690.18,905.05 1692.24,905.05 1694.30,905.05 1696.36,905.05 1698.42,905.05 1700.48,908.60 1702.54,908.60 1704.60,908.60 1706.65,908.60 1708.71,908.60 1710.77,908.60 1712.83,912.14 1714.89,912.14 1716.95,912.14 1719.01,912.14 1721.07,912.14 1723.12,912.14 1725.18,915.68 1727.24,915.68 1729.30,915.68 1731.36,915.68 1733.42,915.68 1735.48,915.68 1737.54,915.68 1739.59,915.68 1741.65,915.68 1743.71,915.68 1745.77,915.68 1747.83,915.68 1749.89,919.22 1751.95,919.22 1754.01,919.22 1756.06,919.22 1758.12,919.22 1760.18,919.22 1762.24,919.22 1764.30,919.22 1766.36,919.22 1768.42,919.22 1770.48,919.22 1772.53,919.22 1774.59,919.22 1776.65,919.22 1778.71,919.22 1780.77,919.22 1782.83,919.22 1784.89,922.76 1786.95,922.76 1789.00,922.76 1791.06,922.76 1793.12,922.76 1795.18,922.76 1797.24,922.76 1799.30,922.76 1801.36,922.76 1803.42,922.76 1805.47,922.76 1807.53,922.76 1809.59,926.31 1811.65,926.31 1813.71,926.31 1815.77,926.31 1817.83,926.31 1819.89,926.31 1821.94,926.31 1824.00,926.31 1826.06,926.31 1828.12,926.31 1830.18,929.85 1832.24,929.85 1834.30,929.85 1836.36,929.85 1838.41,929.85 1840.47,929.85 1842.53,929.85 1844.59,929.85 1846.65,929.85 1848.71,926.31 1850.77,926.31 1852.83,926.31 1854.88,926.31 1856.94,926.31 1859.00,926.31 1861.06,926.31 1863.12,926.31 1865.18,926.31 1867.24,926.31 1869.30,929.85 1871.35,929.85 1873.41,929.85 1875.47,929.85 1877.53,929.85 1879.59,929.85 1881.65,929.85 1883.71,929.85 1885.77,929.85 1887.82,929.85 1889.88,929.85 1891.94,929.85 1894.00,929.85 1896.06,929.85 1898.12,929.85 1900.18,929.85 1902.24,929.85 1904.29,929.85 1906.35,929.85 1908.41,929.85 1910.47,929.85 1912.53,929.85 1914.59,929.85 1916.65,929.85 1918.71,929.85 1920.76,929.85 1922.82,929.85 1924.88,929.85 1926.94,929.85 1929.00,929.85 1931.06,929.85 1933.12,929.85"/>
<polyline class="c" stroke="#00b050" stroke-dasharray="43.34 18.72" stroke-dashoffset="47.66" points="588.75,33.72 590.81,58.52 592.87,93.94 594.93,125.81 596.99,150.61 599.05,175.40 601.11,200.20 603.16,224.99 605.22,249.78 607.28,278.12 609.34,306.46 611.40,334.79 613.46,359.59 615.52,380.84 617.58,398.55 619.63,416.26 621.69,430.43 623.75,448.14 625.81,469.39 627.87,487.10 629.93,504.81 631.99,518.98 634.05,533.14 636.11,547.31 638.16,561.48 640.22,572.11 642.28,586.27 644.34,596.90 646.40,607.53 648.46,618.15 650.52,632.32 652.58,642.95 654.63,653.57 656.69,664.20 658.75,674.82 660.81,685.45 662.87,696.08 664.93,706.70 666.99,717.33 669.04,724.41 671.10,735.04 673.16,742.12 675.22,752.75 677.28,759.83 679.34,766.92 681.40,774.00 683.46,781.08 685.51,784.63 687.57,791.71 689.63,795.25 691.69,798.79 693.75,802.34 695.81,809.42 697.87,812.96 699.93,816.50 701.98,820.05 704.04,820.05 706.10,823.59 708.16,827.13 710.22,830.67 712.28,834.21 714.34,837.76 716.40,837.76 718.45,841.30 720.51,844.84 722.57,844.84 724.63,848.38 726.69,848.38 728.75,851.92 730.81,851.92 732.87,851.92 734.92,855.47 736.98,851.92 739.04,851.92 741.10,851.92 743.16,851.92 745.22,851.92 747.28,851.92 749.34,851.92 751.39,851.92 753.45,851.92 755.51,855.47 757.57,855.47 759.63,855.47 761.69,855.47 763.75,855.47 765.81,855.47 767.87,851.92 769.92,851.92 771.98,851.92 774.04,851.92 776.10,848.38 778.16,848.38 780.22,844.84 782.28,844.84 784.34,844.84 786.39,841.30 788.45,841.30 790.51,837.76 792.57,834.21 794.63,834.21 796.69,830.67 798.75,827.13 800.80,823.59 802.86,820.05 804.92,816.50 806.98,812.96 809.04,809.42 811.10,805.88 813.16,802.34 815.22,798.79 817.27,795.25 819.33,791.71 821.39,788.17 823.45,784.63 825.51,781.08 827.57,777.54 829.63,774.00 831.69,770.46 833.75,766.92 835.80,759.83 837.86,756.29 839.92,752.75 841.98,749.21 844.04,745.66 846.10,742.12 848.16,738.58 850.21,735.04 852.27,731.50 854.33,724.41 856.39,720.87 858.45,713.79 860.51,710.24 862.57,703.16 864.63,699.62 866.68,692.53 868.74,688.99 870.80,681.91 872.86,674.82 874.92,671.28 876.98,664.20 879.04,660.66 881.10,653.57 883.15,646.49 885.21,642.95 887.27,635.86 889.33,632.32 891.39,625.24 893.45,618.15 895.51,614.61 897.57,607.53 899.62,603.98 901.68,596.90 903.74,593.36 905.80,586.27 907.86,582.73 909.92,575.65 911.98,572.11 914.04,565.02 916.09,557.94 918.15,550.85 920.21,547.31 922.27,540.23 924.33,536.69 926.39,529.60 928.45,526.06 930.51,522.52 932.56,515.43 934.62,511.89 936.68,508.35 938.74,504.81 940.80,501.27 942.86,497.72 944.92,494.18 946.98,490.64 949.03,487.10 951.09,483.56 953.15,480.01 955.21,476.47 957.27,472.93 959.33,469.39 961.39,465.85 963.45,462.30 965.50,458.76 967.56,455.22 969.62,451.68 971.68,451.68 973.74,448.14 975.80,444.59 977.86,444.59 979.92,441.05 981.97,437.51 984.03,437.51 986.09,433.97 988.15,433.97 990.21,430.43 992.27,430.43 994.33,426.88 996.39,426.88 998.44,423.34 1000.50,423.34 1002.56,419.80 1004.62,416.26 1006.68,416.26 1008.74,412.72 1010.80,412.72 1012.86,409.17 1014.91,409.17 1016.97,405.63 1019.03,405.63 1021.09,405.63 1023.15,405.63 1025.21,402.09 1027.27,402.09 1029.33,402.09 1031.38,402.09 1033.44,398.55 1035.50,398.55 1037.56,398.55 1039.62,395.01 1041.68,395.01 1043.74,395.01 1045.80,395.01 1047.86,391.46 1049.91,391.46 1051.97,391.46 1054.03,391.46 1056.09,387.92 1058.15,387.92 1060.21,387.92 1062.27,387.92 1064.32,384.38 1066.38,384.38 1068.44,384.38 1070.50,380.84 1072.56,380.84 1074.62,380.84 1076.68,380.84 1078.74,380.84 1080.80,377.30 1082.85,377.30 1084.91,377.30 1086.97,377.30 1089.03,377.30 1091.09,377.30 1093.15,377.30 1095.21,377.30 1097.26,377.30 1099.32,377.30 1101.38,377.30 1103.44,373.75 1105.50,373.75 1107.56,373.75 1109.62,370.21 1111.68,370.21 1113.73,370.21 1115.79,370.21 1117.85,370.21 1119.91,370.21 1121.97,370.21 1124.03,366.67 1126.09,366.67 1128.15,366.67 1130.20,366.67 1132.26,366.67 1134.32,366.67 1136.38,366.67 1138.44,366.67 1140.50,366.67 1142.56,366.67 1144.62,366.67 1146.67,366.67 1148.73,366.67 1150.79,366.67 1152.85,366.67 1154.91,366.67 1156.97,366.67 1159.03,366.67 1161.09,363.13 1163.14,363.13 1165.20,363.13 1167.26,363.13 1169.32,363.13 1171.38,363.13 1173.44,363.13 1175.50,363.13 1177.56,363.13 1179.61,363.13 1181.67,363.13 1183.73,366.67 1185.79,366.67 1187.85,366.67 1189.91,366.67 1191.97,366.67 1194.03,366.67 1196.09,366.67 1198.14,366.67 1200.20,366.67 1202.26,366.67 1204.32,366.67 1206.38,366.67 1208.44,366.67 1210.50,366.67 1212.55,366.67 1214.61,366.67 1216.67,370.21 1218.73,370.21 1220.79,370.21 1222.85,373.75 1224.91,373.75 1226.97,373.75 1229.03,377.30 1231.08,377.30 1233.14,377.30 1235.20,380.84 1237.26,380.84 1239.32,384.38 1241.38,384.38 1243.44,387.92 1245.49,387.92 1247.55,387.92 1249.61,391.46 1251.67,391.46 1253.73,391.46 1255.79,395.01 1257.85,395.01 1259.91,395.01 1261.96,398.55 1264.02,398.55 1266.08,402.09 1268.14,402.09 1270.20,405.63 1272.26,405.63 1274.32,409.17 1276.38,409.17 1278.43,412.72 1280.49,416.26 1282.55,419.80 1284.61,423.34 1286.67,423.34 1288.73,426.88 1290.79,430.43 1292.85,430.43 1294.90,433.97 1296.96,437.51 1299.02,437.51 1301.08,441.05 1303.14,444.59 1305.20,444.59 1307.26,448.14 1309.32,451.68 1311.38,451.68 1313.43,455.22 1315.49,458.76 1317.55,458.76 1319.61,462.30 1321.67,462.30 1323.73,465.85 1325.79,469.39 1327.85,469.39 1329.90,472.93 1331.96,472.93 1334.02,476.47 1336.08,480.01 1338.14,480.01 1340.20,483.56 1342.26,487.10 1344.31,487.10 1346.37,490.64 1348.43,494.18 1350.49,497.72 1352.55,497.72 1354.61,501.27 1356.67,504.81 1358.73,504.81 1360.78,508.35 1362.84,511.89 1364.90,511.89 1366.96,515.43 1369.02,518.98 1371.08,522.52 1373.14,522.52 1375.20,526.06 1377.25,529.60 1379.31,529.60 1381.37,533.14 1383.43,536.69 1385.49,540.23 1387.55,540.23 1389.61,543.77 1391.67,547.31 1393.72,550.85 1395.78,554.40 1397.84,557.94 1399.90,557.94 1401.96,561.48 1404.02,565.02 1406.08,568.56 1408.14,568.56 1410.19,572.11 1412.25,575.65 1414.31,579.19 1416.37,582.73 1418.43,582.73 1420.49,586.27 1422.55,589.82 1424.61,593.36 1426.66,593.36 1428.72,596.90 1430.78,600.44 1432.84,603.98 1434.90,607.53 1436.96,607.53 1439.02,611.07 1441.08,614.61 1443.13,618.15 1445.19,621.69 1447.25,625.24 1449.31,628.78 1451.37,632.32 1453.43,632.32 1455.49,635.86 1457.55,639.40 1459.61,642.95 1461.66,646.49 1463.72,650.03 1465.78,650.03 1467.84,653.57 1469.90,657.11 1471.96,660.66 1474.02,664.20 1476.07,667.74 1478.13,667.74 1480.19,671.28 1482.25,674.82 1484.31,678.37 1486.37,681.91 1488.43,685.45 1490.49,685.45 1492.54,688.99 1494.60,692.53 1496.66,696.08 1498.72,696.08 1500.78,699.62 1502.84,703.16 1504.90,706.70 1506.96,710.24 1509.01,713.79 1511.07,717.33 1513.13,720.87 1515.19,724.41 1517.25,727.95 1519.31,731.50 1521.37,735.04 1523.43,738.58 1525.48,738.58 1527.54,742.12 1529.60,745.66 1531.66,749.21 1533.72,749.21 1535.78,752.75 1537.84,756.29 1539.90,759.83 1541.95,763.37 1544.01,766.92 1546.07,770.46 1548.13,770.46 1550.19,774.00 1552.25,777.54 1554.31,781.08 1556.37,784.63 1558.42,784.63 1560.48,788.17 1562.54,791.71 1564.60,791.71 1566.66,795.25 1568.72,798.79 1570.78,798.79 1572.84,802.34 1574.89,805.88 1576.95,805.88 1579.01,809.42 1581.07,812.96 1583.13,816.50 1585.19,816.50 1587.25,820.05 1589.31,823.59 1591.37,823.59 1593.42,827.13 1595.48,830.67 1597.54,830.67 1599.60,834.21 1601.66,837.76 1603.72,837.76 1605.78,841.30 1607.83,841.30 1609.89,844.84 1611.95,844.84 1614.01,848.38 1616.07,848.38 1618.13,851.92 1620.19,851.92 1622.25,855.47 1624.30,855.47 1626.36,859.01 1628.42,859.01 1630.48,862.55 1632.54,862.55 1634.60,866.09 1636.66,866.09 1638.72,866.09 1640.77,869.63 1642.83,869.63 1644.89,873.18 1646.95,873.18 1649.01,876.72 1651.07,876.72 1653.13,876.72 1655.19,880.26 1657.24,880.26 1659.30,880.26 1661.36,880.26 1663.42,883.80 1665.48,883.80 1667.54,883.80 1669.60,887.34 1671.66,887.34 1673.71,887.34 1675.77,890.89 1677.83,890.89 1679.89,890.89 1681.95,894.43 1684.01,894.43 1686.07,894.43 1688.13,897.97 1690.18,897.97 1692.24,897.97 1694.30,901.51 1696.36,901.51 1698.42,901.51 1700.48,901.51 1702.54,901.51 1704.60,905.05 1706.65,905.05 1708.71,905.05 1710.77,905.05 1712.83,905.05 1714.89,905.05 1716.95,905.05 1719.01,905.05 1721.07,905.05 1723.12,908.60 1725.18,908.60 1727.24,908.60 1729.30,912.14 1731.36,915.68 1733.42,915.68 1735.48,915.68 1737.54,915.68 1739.59,915.68 1741.65,915.68 1743.71,915.68 1745.77,915.68 1747.83,915.68 1749.89,915.68 1751.95,915.68 1754.01,915.68 1756.06,915.68 1758.12,915.68 1760.18,915.68 1762.24,915.68 1764.30,915.68 1766.36,915.68 1768.42,919.22 1770.48,919.22 1772.53,919.22 1774.59,919.22 1776.65,919.22 1778.71,919.22 1780.77,919.22 1782.83,919.22 1784.89,919.22 1786.95,922.76 1789.00,922.76 1791.06,922.76 1793.12,922.76 1795.18,922.76 1797.24,922.76 1799.30,922.76 1801.36,922.76 1803.42,922.76 1805.47,922.76 1807.53,922.76 1809.59,922.76 1811.65,922.76 1813.71,922.76 1815.77,922.76 1817.83,922.76 1819.89,922.76 1821.94,926.31 1824.00,926.31 1826.06,926.31 1828.12,926.31 1830.18,926.31 1832.24,926.31 1834.30,926.31 1836.36,926.31 1838.41,926.31 1840.47,926.31 1842.53,926.31 1844.59,926.31 1846.65,929.85 1848.71,929.85 1850.77,929.85 1852.83,929.85 1854.88,929.85 1856.94,929.85 1859.00,929.85 1861.06,929.85 1863.12,929.85 1865.18,929.85 1867.24,929.85 1869.30,926.31 1871.35,926.31 1873.41,926.31 1875.47,926.31 1877.53,926.31 1879.59,929.85 1881.65,929.85 1883.71,929.85 1885.77,929.85 1887.82,929.85 1889.88,929.85 1891.94,929.85 1894.00,929.85 1896.06,929.85 1898.12,929.85 1900.18,929.85 1902.24,929.85 1904.29,929.85 1906.35,929.85 1908.41,929.85 1910.47,929.85 1912.53,929.85 1914.59,929.85 1916.65,929.85 1918.71,929.85 1920.76,929.85 1922.82,929.85 1924.88,929.85 1926.94,929.85 1929.00,929.85 1931.06,929.85 1933.12,929.85"/>
</g>
<text class="tl" x="145.1 177.4 193.4" y="85.0">0.3</text>
<text class="tl" x="145.1 177.4 193.4" y="436.5">0.2</text>
<text class="tl" x="145.1 177.4 193.4" y="793.0">0.1</text>
<text class="tl" x="193.6" y="1144.6">0</text>
<text class="tl" x="232.8 264.4 299.6" y="1221.6">250</text>
<text class="tl" x="644.5 676.1 711.4" y="1221.6">350</text>
<text class="tl" x="1056.3 1087.9 1123.1" y="1221.6">450</text>
<text class="tl" x="1468.0 1499.7 1534.8" y="1221.6">550</text>
<text class="tl" x="1879.8 1911.4 1946.6" y="1221.6">650</text>
<text class="ax" x="849.9 909.4 938.9 972.7 1000.4 1018.5 1047.1 1080.2 1111.4 1129.7 1161.0 1179.2 1211.0 1228.1 1250.4 1285.2 1336.0" y="1314.5" xml:space="preserve">Wavelength λ (nm)</text>
<text class="yt" transform="rotate(-90)" x="-867.3 -820.5 -787.1 -761.1 -728.5 -704.8 -670.8 -643.2 -611.2 -580.0 -552.0 -539.3 -517.8 -471.4 -418.4" y="74.3" xml:space="preserve">Absorbance (A%)</text>
<path class="c" stroke="#000" d="M1463.5 139.6 H1616"/>
<text class="lg" x="1630.9 1647.0 1661.6 1696.0 1710.7 1740.0 1753.8 1801.1 1816.6" y="156.85" xml:space="preserve">t = 0 min</text>
<path class="c" stroke="#ff0000" stroke-dasharray="15.2 7.4" d="M1463.5 216.0 H1616"/>
<text class="lg" x="1630.9 1647.0 1661.6 1696.0 1709.5 1739.2 1768.0 1782.0 1830.0 1844.8" y="235.9" xml:space="preserve">t = 20 min</text>
<path class="c" stroke="#0070c0" stroke-dasharray="20.9 18.65" d="M1463.5 295.9 H1616"/>
<text class="lg" x="1630.9 1647.0 1661.6 1696.0 1709.5 1739.2 1768.0 1782.0 1830.0 1844.8" y="315.9" xml:space="preserve">t = 40 min</text>
<path class="c" stroke="#00b050" stroke-dasharray="43.4 18.75" d="M1463.5 375.2 H1616"/>
<text class="lg" x="1630.9 1647.0 1661.6 1696.0 1709.5 1739.2 1768.0 1782.0 1830.0 1844.8" y="395.1" xml:space="preserve">t = 60 min</text>
</svg>
</body>
</html>
